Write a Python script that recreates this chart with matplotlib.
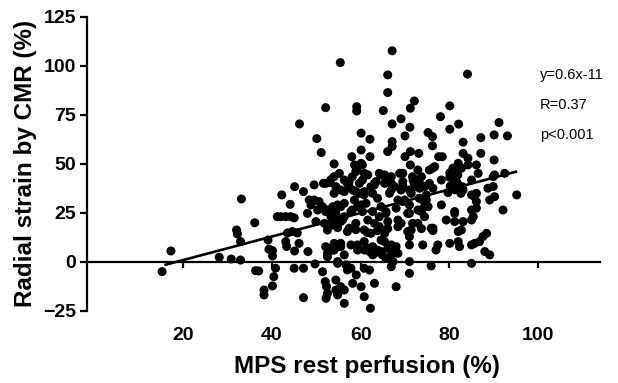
import numpy as np
import matplotlib
matplotlib.use("Agg")
import matplotlib.pyplot as plt

plt.rcParams['font.family'] = ['Liberation Sans', 'DejaVu Sans']

# values, one row of x matches the row of y below it
mps_rest = [
    15.2, 17.2, 28.1, 30.8, 32.9, 33.1, 32.0, 32.2, 32.9, 36.1,
    36.3, 37.0, 39.1, 39.3, 40.1, 40.1, 40.8, 40.4, 40.1, 38.2,
    38.2, 41.2, 42.0, 43.1, 44.2, 45.0, 42.2, 44.1, 45.1, 43.1,
    43.5, 44.6, 45.7, 45.1, 46.1, 45.0, 47.1, 47.1, 47.1, 48.4,
    49.5, 48.0, 48.1, 49.7, 49.5, 46.2, 50.1, 43.3, 48.8, 49.9,
    51.6, 51.1, 52.1, 55.4, 54.0, 53.3, 54.0, 53.0, 50.6, 51.4,
    50.3, 52.1, 53.3, 54.4, 55.5, 51.8, 53.7, 55.5, 52.1, 55.2,
    52.5, 53.7, 54.0, 52.5, 52.1, 53.7, 54.8, 52.5, 54.8, 51.4,
    52.0, 52.3, 52.5, 52.2, 54.4, 54.4, 55.5, 56.3, 54.8, 56.3,
    57.0, 59.0, 58.2, 60.1, 60.8, 62.2, 60.8, 62.0, 63.1, 68.0,
    71.0, 56.7, 57.8, 66.9, 75.9, 85.0, 54.0, 56.3, 54.8, 71.0,
    53.3, 54.0, 52.5, 55.5, 59.3, 61.9, 62.7, 66.1, 68.0, 68.4,
    54.8, 57.0, 58.9, 61.5, 63.8, 66.1, 68.4, 70.6, 73.7, 76.3,
    66.9, 67.6, 66.9, 67.3, 64.6, 65.4, 63.8, 64.9, 65.7, 63.1,
    62.0, 60.8, 71.0, 71.4, 72.9, 69.1, 71.0, 71.0, 71.0, 77.4,
    77.0, 75.9, 74.0, 82.0, 82.0, 80.1, 82.3, 88.4, 87.6, 86.8,
    85.7, 85.0, 88.0, 89.1, 81.2, 55.5, 57.8, 59.3, 60.8, 62.7,
    64.6, 55.9, 57.4, 58.9, 60.8, 62.3, 64.2, 65.4, 76.3, 82.7,
    56.3, 58.6, 60.4, 58.9, 60.8, 58.1, 59.7, 57.4, 55.5, 54.0,
    53.7, 54.4, 56.3, 58.6, 60.1, 58.1, 60.4, 61.6, 63.1, 64.2,
    64.6, 63.8, 62.7, 63.1, 65.4, 66.9, 64.2, 67.6, 66.5, 68.4,
    68.0, 65.7, 66.1, 68.4, 70.6, 69.9, 69.1, 71.7, 72.9, 73.7,
    72.1, 74.4, 71.4, 73.2, 74.8, 72.9, 74.4, 75.2, 54.4, 57.0,
    58.9, 60.8, 63.1, 65.4, 69.5, 73.3, 75.5, 54.8, 56.3, 57.8,
    59.3, 61.2, 62.7, 65.7, 69.5, 73.7, 71.7, 66.9, 62.3, 60.8,
    67.1, 84.1, 66.1, 66.1, 72.1, 71.2, 65.1, 59.1, 59.1, 80.1,
    78.0, 69.1, 67.1, 71.1, 80.1, 82.1, 91.2, 90.1, 93.1, 87.1,
    75.2, 76.2, 70.0, 60.1, 62.1, 67.1, 67.1, 66.1, 76.2, 83.1,
    87.1, 90.1, 86.1, 95.2, 58.0, 60.1, 62.1, 71.2, 73.1, 70.0,
    77.6, 78.4, 76.2, 83.1, 84.2, 82.0, 71.2, 69.5, 60.1, 59.1,
    90.2, 92.5, 86.5, 85.0, 81.1, 81.9, 81.0, 81.7, 78.2, 76.3,
    75.5, 73.2, 71.8, 72.5, 71.0, 68.8, 69.5, 66.9, 64.6, 65.7,
    63.5, 61.6, 60.4, 57.4, 58.2, 56.3, 59.7, 88.7, 86.1, 90.2,
    83.1, 85.0, 76.7, 80.8, 80.1, 82.7, 84.2, 89.9, 80.1, 81.8,
    80.2, 82.9, 81.3, 82.6, 79.7, 74.8, 74.0, 74.4, 85.7, 86.1,
    86.1, 85.0, 85.4, 89.1, 89.9, 92.1, 78.2, 81.2, 79.3, 81.2,
    83.1, 85.0,
]
radial_strain = [
    -4.9, 5.6, 2.4, 1.5, 1.0, 32.1, 16.3, 14.3, 10.4, 20.0,
    -4.4, -4.6, 11.2, 6.5, 5.8, 3.1, -3.2, -7.5, -12.2, -14.3,
    -16.8, 23.1, 23.1, 23.1, 23.1, 22.5, 34.2, 29.4, 38.4, 10.4,
    14.8, 15.5, 14.8, 5.6, 9.5, -3.2, -3.2, -18.2, 35.9, 31.6,
    31.6, 24.8, 5.3, -1.0, 39.3, 70.4, 62.9, 7.9, 29.1, 20.6,
    40.1, 55.8, 78.7, 101.7, 50.0, 42.0, 43.5, 40.5, 30.8, 28.2,
    26.5, 25.7, 23.1, 24.8, 28.2, 19.7, 18.9, 20.6, 40.1, 45.2,
    26.5, 24.8, 19.7, 16.3, 7.8, 6.1, 7.8, 2.7, -0.7, -5.0,
    -10.0, -12.6, -16.0, -18.5, -14.3, -9.2, -12.6, -14.3, -16.8, -21.1,
    -4.1, -6.6, -10.9, -12.6, -17.7, -23.6, -3.2, -4.1, -10.9, -12.6,
    -5.8, -1.5, -3.2, -2.4, -2.0, -0.7, 6.1, 3.6, 0.2, 0.2,
    7.0, 9.5, 4.4, 7.8, 8.7, 7.0, 3.6, 7.0, 7.8, 4.4,
    17.5, 15.5, 16.5, 15.0, 16.0, 17.0, 18.0, 15.5, 17.0, 16.0,
    8.7, 6.1, 3.6, 0.2, 11.2, 10.4, 6.1, 3.6, 1.9, 4.4,
    5.3, 6.1, 12.9, 16.3, 19.7, 19.7, 24.8, 29.1, 8.7, 8.7,
    6.1, 17.2, 8.7, 15.5, 10.4, 9.5, 7.8, 14.6, 13.0, 10.4,
    9.5, 8.7, 5.3, 3.6, 24.8, 9.5, 8.7, 6.1, 10.4, 7.8,
    5.3, 21.4, 17.2, 19.7, 16.3, 14.6, 18.0, 14.6, 17.2, 16.3,
    41.8, 49.5, 49.5, 46.1, 45.2, 43.5, 40.1, 38.4, 36.7, 35.0,
    28.2, 23.1, 23.1, 31.6, 29.1, 26.5, 25.7, 21.4, 19.7, 23.1,
    28.2, 32.5, 35.0, 40.1, 44.4, 43.5, 45.2, 38.5, 35.0, 31.6,
    27.4, 25.7, 20.6, 21.4, 24.8, 31.6, 36.7, 43.5, 46.9, 43.5,
    40.1, 38.5, 35.0, 32.5, 31.6, 26.5, 23.1, 28.2, 38.4, 40.1,
    35.9, 34.2, 39.3, 40.1, 39.3, 37.6, 40.1, 29.1, 29.9, 25.7,
    28.2, 29.9, 25.7, 24.8, 30.8, 25.7, 19.7, 36.7, 38.4, 35.9,
    107.7, 95.8, 95.4, 86.4, 82.1, 78.4, 77.2, 79.2, 77.0, 79.6,
    74.1, 73.0, 70.4, 68.7, 67.7, 70.3, 71.1, 64.8, 64.3, 63.4,
    66.0, 63.9, 64.3, 65.7, 62.6, 61.4, 58.9, 56.3, 59.2, 61.1,
    55.4, 52.0, 49.5, 34.2, 53.7, 57.1, 53.7, 56.3, 55.4, 53.7,
    53.7, 53.7, 47.8, 55.4, 52.9, 50.3, 49.5, 45.2, 50.3, 46.9,
    44.4, 45.2, 45.2, 41.8, 46.9, 44.4, 41.8, 39.7, 41.8, 37.6,
    46.9, 41.0, 41.8, 38.4, 36.7, 45.2, 41.0, 40.1, 44.4, 41.8,
    41.0, 44.4, 41.8, 41.0, 36.7, 35.9, 35.0, 37.6, 35.0, 33.3,
    36.7, 34.2, 48.6, 47.8, 45.4, 47.8, 49.5, 43.5, 43.2, 40.3,
    38.7, 38.4, 36.8, 35.0, 35.4, 34.2, 31.6, 28.2, 33.3, 30.8,
    27.4, 26.5, 23.1, 31.6, 38.5, 26.5, 29.1, 25.7, 21.4, 20.6,
    20.6, 21.4,
]
assert len(mps_rest) == len(radial_strain)

fit_slope = 0.6
fit_intercept = -11
fit_range = [16, 95]
stats_lines = ["y=0.6x-11", "R=0.37", "p<0.001"]
x_ticks = [20, 40, 60, 80, 100]
y_ticks = [-25, 0, 25, 50, 75, 100, 125]

fig = plt.figure(figsize=(6.18, 3.83), dpi=100)
ax = fig.add_axes([0.141, 0.188, 0.830, 0.768])

ax.scatter(mps_rest, radial_strain, s=42, c='black', edgecolors='none',
           zorder=3, clip_on=False)

fx = np.array(fit_range, dtype=float)
ax.plot(fx, fit_slope * fx + fit_intercept, color='black', lw=1.9, zorder=4)

ax.set_xlim(-1.7, 114)
ax.set_ylim(-25, 125)
ax.set_xticks(x_ticks)
ax.set_yticks(y_ticks)

for s in ['top', 'right']:
    ax.spines[s].set_visible(False)
ax.spines['left'].set_linewidth(1.6)
ax.spines['bottom'].set_linewidth(1.6)
ax.spines['bottom'].set_position(('data', 0))

ax.tick_params(axis='x', direction='out', length=4, width=1.6, pad=43,
               labelsize=14)
ax.tick_params(axis='y', direction='out', length=5, width=1.6, pad=3,
               labelsize=14)
for lab in ax.get_xticklabels() + ax.get_yticklabels():
    lab.set_fontweight('bold')

ax.set_xlabel('MPS rest perfusion (%)', fontsize=17.5, fontweight='bold')
ax.xaxis.set_label_coords(0.546, -0.15)
ax.set_ylabel('Radial strain by CMR (%)', fontsize=17.5, fontweight='bold')
ax.yaxis.set_label_coords(-0.098, 0.5)

for i, t in enumerate(stats_lines):
    ax.text(0.883, 0.803 - i * 0.102, t, transform=ax.transAxes,
            fontsize=10.5, va='center', ha='left')

fig.savefig('out.png', dpi=100)
